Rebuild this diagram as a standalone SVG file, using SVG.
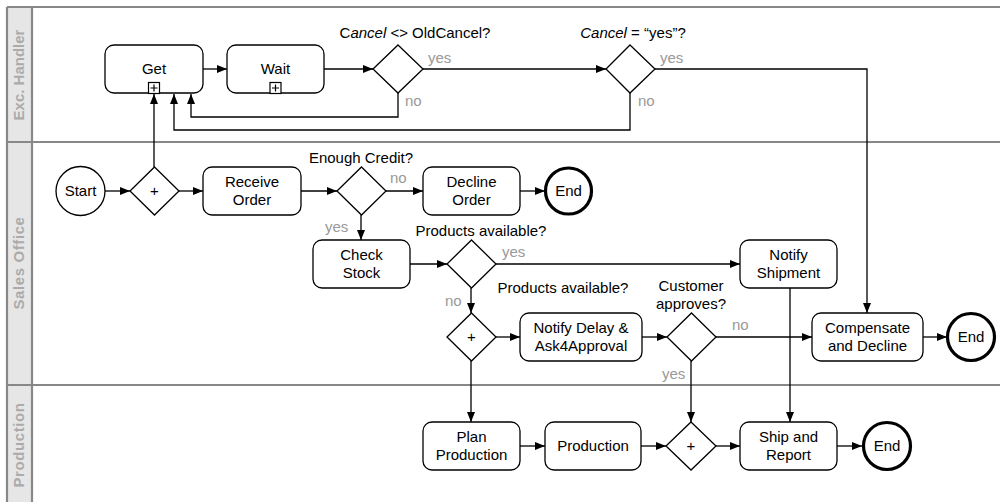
<svg xmlns="http://www.w3.org/2000/svg" width="1000" height="502" viewBox="0 0 1000 502">
<defs>
<marker id="arr" viewBox="0 0 10 10" refX="10" refY="5" markerWidth="10" markerHeight="10" markerUnits="userSpaceOnUse" orient="auto">
<path d="M0,1 L10,5 L0,9 z" fill="#000"/>
</marker>
<style>
text{font-family:"Liberation Sans",Arial,sans-serif;font-size:15px;fill:#000}
.c{text-anchor:middle}
.g{fill:#999}
.lane{font-weight:bold;fill:#ababab;text-anchor:middle}
.task{fill:#fff;stroke:#000;stroke-width:1.3}
.gw{fill:#fff;stroke:#000;stroke-width:1.3}
.start{fill:#fff;stroke:#000;stroke-width:1.3}
.end{fill:#fff;stroke:#000;stroke-width:3.2}
.conn path{fill:none;stroke:#000;stroke-width:1.3;marker-end:url(#arr)}
.sep{stroke:#888;stroke-width:2.2;fill:none}
</style>
</defs>
<rect x="0" y="0" width="1000" height="502" fill="#fff"/>
<g id="lanes">
<rect x="7" y="7" width="25" height="500" fill="#e6e6e6"/>
<path class="sep" d="M7,7 H1000 M7,7 V502 M32,7 V502 M7,142 H1000 M7,385 H1000"/>
<text class="lane" transform="translate(24,75) rotate(-90)">Exc. Handler</text>
<text class="lane" transform="translate(24,263) rotate(-90)" letter-spacing="0.6">Sales Office</text>
<text class="lane" transform="translate(24,445) rotate(-90)" letter-spacing="0.6">Production</text>
</g>
<g class="conn" id="connectors">
<path d="M203,69 H227"/>
<path d="M324,69 H373"/>
<path d="M423,69 H606"/>
<path d="M398,93 V117 H191 V94"/>
<path d="M630,93 V130 H174 V94"/>
<path d="M655,69 H867 V313"/>
<path d="M105,191 H130"/>
<path d="M154,167 V94"/>
<path d="M179,191 H203"/>
<path d="M301,191 H337"/>
<path d="M386,191 H423"/>
<path d="M520,191 H545"/>
<path d="M361,215 V240"/>
<path d="M410,264 H447"/>
<path d="M496,264 H740"/>
<path d="M471,288 V313"/>
<path d="M496,337 H520"/>
<path d="M471,361 V422"/>
<path d="M642,337 H667"/>
<path d="M716,337 H812"/>
<path d="M691,361 V422"/>
<path d="M790,288 V422"/>
<path d="M923,337 H947"/>
<path d="M520,446 H545"/>
<path d="M641,446 H666"/>
<path d="M716,446 H740"/>
<path d="M837,446 H862"/>
</g>
<g id="get">
<rect class="task" x="105" y="45" width="98" height="48" rx="9"/>
<text class="c" x="154" y="74">Get</text>
<rect x="148.5" y="82.5" width="11" height="11" fill="#fff" stroke="#000" stroke-width="1.2"/>
<path d="M154,84.5 V91.5 M150.5,88 H157.5" stroke="#000" stroke-width="1.2"/>
</g>
<g id="wait">
<rect class="task" x="227" y="45" width="97" height="48" rx="9"/>
<text class="c" x="275.5" y="74">Wait</text>
<rect x="270" y="82.5" width="11" height="11" fill="#fff" stroke="#000" stroke-width="1.2"/>
<path d="M275.5,84.5 V91.5 M272,88 H279" stroke="#000" stroke-width="1.2"/>
</g>
<g id="d-cancel-old">
<path class="gw" d="M398,45 L423,69 L398,93 L373,69 Z"/>
<text class="c" x="415" y="38">C<tspan font-style="italic">ancel</tspan> &lt;&gt; OldCancel?</text>
<text class="g" x="428" y="63">yes</text>
<text class="g" x="405" y="106">no</text>
</g>
<g id="d-cancel-yes">
<path class="gw" d="M630,45 L655,69 L630,93 L606,69 Z"/>
<text class="c" x="633" y="38"><tspan font-style="italic">Cancel</tspan> = “yes”?</text>
<text class="g" x="660" y="63">yes</text>
<text class="g" x="638" y="106">no</text>
</g>
<g id="start">
<circle class="start" cx="80.5" cy="191" r="24.5"/>
<text class="c" x="80.5" y="196">Start</text>
</g>
<g id="fork1">
<path class="gw" d="M154.5,167 L179,191 L154.5,215 L130,191 Z"/>
<text class="c" x="154.5" y="196">+</text>
</g>
<g id="receive">
<rect class="task" x="203" y="167" width="98" height="48" rx="9"/>
<text class="c" x="252" y="187">Receive</text>
<text class="c" x="252" y="205">Order</text>
</g>
<g id="d-credit">
<path class="gw" d="M361.5,167 L386,191 L361.5,215 L337,191 Z"/>
<text class="c" x="361" y="163">Enough Credit?</text>
<text class="g" x="390" y="183">no</text>
<text class="g" x="325" y="232">yes</text>
</g>
<g id="decline">
<rect class="task" x="423" y="167" width="97" height="48" rx="9"/>
<text class="c" x="471.5" y="187">Decline</text>
<text class="c" x="471.5" y="205">Order</text>
</g>
<g id="end1">
<circle class="end" cx="568.5" cy="191" r="23"/>
<text class="c" x="568.5" y="196">End</text>
</g>
<g id="check">
<rect class="task" x="313" y="240" width="97" height="48" rx="9"/>
<text class="c" x="361.5" y="260">Check</text>
<text class="c" x="361.5" y="278">Stock</text>
</g>
<g id="d-products">
<path class="gw" d="M471.5,240 L496,264 L471.5,288 L447,264 Z"/>
<text class="c" x="481" y="236">Products available?</text>
<text class="g" x="502" y="257">yes</text>
<text class="g" x="445" y="306">no</text>
</g>
<g id="notify-ship">
<rect class="task" x="740" y="240" width="97" height="48" rx="9"/>
<text class="c" x="788.5" y="260">Notify</text>
<text class="c" x="788.5" y="278">Shipment</text>
</g>
<g id="fork2">
<path class="gw" d="M471.5,313 L496,337 L471.5,361 L447,337 Z"/>
<text class="c" x="471.5" y="342">+</text>
<text class="c" x="563" y="293">Products available?</text>
</g>
<g id="notify-delay">
<rect class="task" x="520" y="313" width="122" height="48" rx="9"/>
<text class="c" x="581" y="333">Notify Delay &amp;</text>
<text class="c" x="581" y="351">Ask4Approval</text>
</g>
<g id="d-approve">
<path class="gw" d="M691.5,313 L716,337 L691.5,361 L667,337 Z"/>
<text class="c" x="691" y="291">Customer</text>
<text class="c" x="691" y="309">approves?</text>
<text class="g" x="732" y="330">no</text>
<text class="g" x="662" y="379">yes</text>
</g>
<g id="compensate">
<rect class="task" x="812" y="313" width="111" height="48" rx="9"/>
<text class="c" x="867.5" y="333">Compensate</text>
<text class="c" x="867.5" y="351">and Decline</text>
</g>
<g id="end2">
<circle class="end" cx="971" cy="337" r="23.5"/>
<text class="c" x="971" y="342">End</text>
</g>
<g id="plan">
<rect class="task" x="423" y="422" width="97" height="48" rx="9"/>
<text class="c" x="471.5" y="442">Plan</text>
<text class="c" x="471.5" y="460">Production</text>
</g>
<g id="production">
<rect class="task" x="545" y="422" width="96" height="48" rx="9"/>
<text class="c" x="593" y="451">Production</text>
</g>
<g id="join">
<path class="gw" d="M691,422 L716,446 L691,470 L666,446 Z"/>
<text class="c" x="691" y="451">+</text>
</g>
<g id="ship">
<rect class="task" x="740" y="422" width="97" height="48" rx="9"/>
<text class="c" x="788.5" y="442">Ship and</text>
<text class="c" x="788.5" y="460">Report</text>
</g>
<g id="end3">
<circle class="end" cx="887" cy="446" r="23.5"/>
<text class="c" x="887" y="451">End</text>
</g>
</svg>
